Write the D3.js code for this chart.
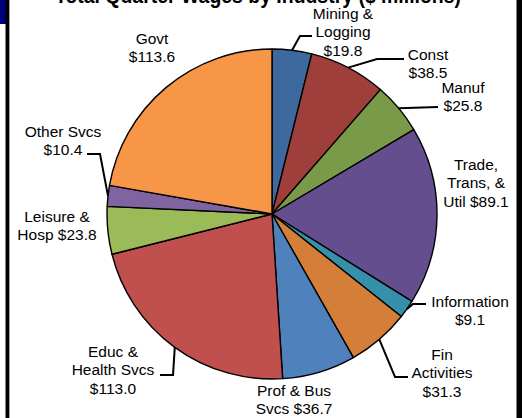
<!DOCTYPE html>
<html>
<head>
<meta charset="utf-8">
<script src="https://cdn.jsdelivr.net/npm/d3@7"></script>
<style>
  html, body { margin: 0; padding: 0; background: #fff; }
  svg { display: block; }
</style>
</head>
<body>
<svg id="chart" width="522" height="418"></svg>
<script>
// Quarterly wages by industry, $ millions
const industries = [
  "Mining &\nLogging", "Const", "Manuf", "Trade,\nTrans, &\nUtil", "Information",
  "Fin\nActivities", "Prof & Bus\nSvcs", "Educ &\nHealth Svcs", "Leisure &\nHosp",
  "Other Svcs", "Govt"
];
const wages = [19.8, 38.5, 25.8, 89.1, 9.1, 31.3, 36.7, 113.0, 23.8, 10.4, 113.6];
const sliceColors = [
  "#3E699F", "#9E3F3C", "#789A49", "#654E8D", "#3690AA", "#D47E3A",
  "#4F81BD", "#C0504D", "#9BBB59", "#8064A2", "#F79646"
];
const titleText = "Total Quarter Wages by Industry ($ millions)";

// Label placement: text centre x, first baseline y, separator before the value,
// and the bend / end points of the leader line (null when none is drawn).
const labelLayout = [
  { x: 343, y: 19, sep: "\n", leader: [[300, 36], [312, 36]] },
  { x: 428, y: 60, sep: "\n", leader: [[377, 59], [404, 59]] },
  { x: 463, y: 93, sep: "\n", leader: [[438, 107]] },
  { x: 476, y: 170, sep: " ", leader: null },
  { x: 470, y: 307, sep: "\n", leader: [[413, 304], [426, 304]] },
  { x: 442, y: 360, sep: "\n", leader: [[395, 377], [408, 377]] },
  { x: 294, y: 396, sep: " ", leader: null },
  { x: 113, y: 357, sep: "\n", leader: [[173, 375], [160, 375]] },
  { x: 57, y: 222, sep: " ", leader: null },
  { x: 63, y: 137, sep: "\n", leader: [[100, 154], [87, 154]] },
  { x: 152, y: 44, sep: "\n", leader: null }
];

const svg = d3.select("#chart");
const cx = 272, cy = 214, radius = 165;
const fontFamily = "'Liberation Sans', Arial, sans-serif";

// Title (sits mostly above the top edge)
svg.append("text")
  .attr("x", 55).attr("y", 3)
  .attr("textLength", 406)
  .attr("lengthAdjust", "spacingAndGlyphs")
  .attr("font-family", fontFamily)
  .attr("font-weight", "bold")
  .attr("font-size", 22)
  .attr("fill", "#000")
  .text(titleText);

const pie = d3.pie().sort(null).value(d => d).startAngle(0).endAngle(2 * Math.PI);
const arcs = pie(wages);
const arc = d3.arc().innerRadius(0).outerRadius(radius);
const edgeArc = d3.arc().innerRadius(radius).outerRadius(radius);

const g = svg.append("g").attr("transform", `translate(${cx},${cy})`);

g.selectAll("path.slice")
  .data(arcs)
  .join("path")
  .attr("class", "slice")
  .attr("d", arc)
  .attr("fill", (d, i) => sliceColors[i])
  .attr("stroke", "#000")
  .attr("stroke-width", 1.4)
  .attr("stroke-linejoin", "round");

// Leader lines from the slice rim to the labels
const line = d3.line();
arcs.forEach((d, i) => {
  const lay = labelLayout[i];
  if (!lay.leader) return;
  const [ex, ey] = edgeArc.centroid(d);
  const pts = [[cx + ex, cy + ey]].concat(lay.leader);
  svg.append("path")
    .attr("d", line(pts))
    .attr("fill", "none")
    .attr("stroke", "#000")
    .attr("stroke-width", 2);
});

// Category labels with values
arcs.forEach((d, i) => {
  const lay = labelLayout[i];
  const txt = industries[i] + lay.sep + "$" + wages[i].toFixed(1);
  const lines = txt.split("\n");
  const t = svg.append("text")
    .attr("text-anchor", "middle")
    .attr("font-family", fontFamily)
    .attr("font-size", 15.5)
    .attr("fill", "#000");
  lines.forEach((ln, k) => {
    t.append("tspan")
      .attr("x", lay.x)
      .attr("y", lay.y + k * 18.3)
      .text(ln);
  });
});

// Frame pieces at the edges
svg.append("rect").attr("x", 0).attr("y", 0).attr("width", 6).attr("height", 24).attr("fill", "#00007F");
svg.append("rect").attr("x", 5.5).attr("y", 0).attr("width", 3.5).attr("height", 418).attr("fill", "#000");
svg.append("rect").attr("x", 9).attr("y", 0).attr("width", 0.8).attr("height", 418).attr("fill", "#888");
svg.append("rect").attr("x", 516.5).attr("y", 0).attr("width", 5.5).attr("height", 418).attr("fill", "#000");
</script>
</body>
</html>
